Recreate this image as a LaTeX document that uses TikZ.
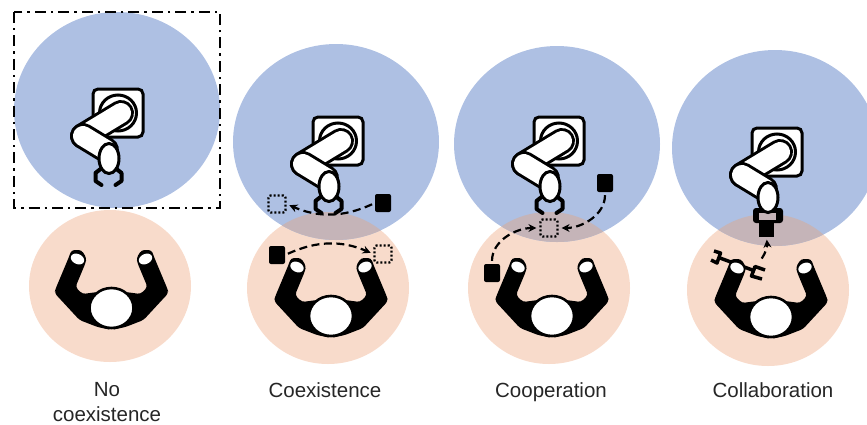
\documentclass[tikz,border=0pt]{standalone}
\usepackage{fontspec}
\setmainfont{Liberation Sans}
\usetikzlibrary{arrows.meta}
\definecolor{robotblue}{HTML}{AEC0E3}
\definecolor{humanpeach}{HTML}{F8DBCB}
\definecolor{sharedzone}{HTML}{C5B4B8}
\tikzset{
  flowline/.style={line width=2.2pt,dash pattern=on 8pt off 4.5pt,shorten <=3pt,shorten >=3pt,-{Stealth[length=8pt,width=8pt]}},
  partbox/.style={fill=black,rounded corners=2pt,minimum width=16pt,minimum height=18pt,inner sep=0pt},
  ghostbox/.style={draw,line width=2.2pt,dash pattern=on 2pt off 2pt,rounded corners=2pt,minimum width=17pt,minimum height=17pt,inner sep=0pt},
  caption/.style={font=\fontsize{20.5}{24.7}\selectfont,align=center,text=black!85,inner sep=0pt},
  robot/.pic={
    \draw[fill=white,line width=3pt,rounded corners=5pt] (-25,-24) rectangle (25,24);
    \draw[fill=white,line width=3pt] (0,0) ellipse (18.5 and 18);
    \draw[line cap=round,line width=26pt] (3,0) -- (-35,23);
    \draw[line cap=round,line width=20pt,white] (3,0) -- (-35,23);
    \draw[line cap=round,line width=26pt] (-35,23) -- (-12,37);
    \draw[line cap=round,line width=20pt,white] (-35,23) -- (-12,37);
    \draw[fill=white,line width=3pt] (-9,45.5) ellipse (10 and 15);
  },
  claws/.pic={
    \foreach \s in {1,-1}{
      \draw[line width=4pt,line join=round,line cap=round] (-9.5+\s*8,56) -- (-9.5+\s*13,60) -- (-9.5+\s*13,68) -- (-9.5+\s*7,72);
    }
  },
  human/.pic={
    \foreach \s in {1,-1}{
      \begin{scope}[xscale=\s]
        \fill[black,rounded corners=3pt] (0,22) -- (-14,19) -- (-32,12) -- (-57,-15) -- (-56,-19) -- (-43,-50) -- (-40,-58) -- (-30,-58) -- (-25,-50) -- (-26,-45) -- (-36,-21) -- (-29,-14) -- (-14,-16) -- (0,-16) -- cycle;
        \fill[white,rotate around={-25:(-34,-49)}] (-34,-49) ellipse (7 and 5);
      \end{scope}
    }
    \draw[fill=white,line width=2.6pt] (0,0) ellipse (22 and 20);
  },
}
\begin{document}
\begin{tikzpicture}[x=1pt,y=-1pt]
  \useasboundingbox (0,0) rectangle (867,424);
  % zones
  \foreach \bx/\by/\px/\py in {117/110/110/286,336/142/328/288,557/144/549/288,775/148/768/290}{
    \fill[humanpeach] (\px,\py) ellipse (81 and 76);
    \fill[robotblue] (\bx,\by) ellipse (103 and 98);
    \begin{scope}
      \clip (\px,\py) ellipse (81 and 76);
      \fill[sharedzone] (\bx,\by) ellipse (103 and 98);
    \end{scope}
  }
  \draw[line width=2.4pt,dash pattern=on 11pt off 5pt on 2.4pt off 5pt] (14,12) rectangle (220,208);
  % held part and tool
  \fill[rounded corners=3pt] (753,208) rectangle (783,223);
  \fill[sharedzone] (759,213) rectangle (776,220);
  \draw[line width=3.5pt] (720,258) -- (755,271);
  \draw[line width=3.5pt,line join=round] (714,251) -- (720.5,253) -- (717,263) -- (711,260);
  \draw[line width=3.5pt,line join=round] (765,270) -- (755,266.5) -- (751.5,276) -- (762,279);
  % robots and workers
  \foreach \rx/\ry/\hx/\hy in {118/113/111.5/308,338/141/331/316,559/141/552/316,777/152/771/317}{
    \pic at (\rx,\ry) {robot};
    \pic at (\hx,\hy) {human};
  }
  \pic at (118,113) {claws};
  \pic at (338,141) {claws};
  \pic at (559,141) {claws};
  % coexistence
  \node[partbox] (partA) at (383,203) {};
  \node[ghostbox] (ghostA) at (277,204) {};
  \node[partbox] (partB) at (277,255) {};
  \node[ghostbox] (ghostB) at (383,254) {};
  \draw[flowline] (partA.west) to[bend left=24] (ghostA.east);
  \draw[flowline] (partB.east) to[bend left=24] (ghostB.west);
  % cooperation
  \node[partbox] (partC) at (605,183) {};
  \node[partbox] (partD) at (492,273) {};
  \node[ghostbox] (ghostC) at (549,228) {};
  \draw[flowline] (partC.south) to[out=-90,in=0] (ghostC.east);
  \draw[flowline] (partD.north) to[out=90,in=180] (ghostC.west);
  % collaboration
  \node[fill=black,minimum width=15pt,minimum height=15pt,inner sep=0pt] (partE) at (766.5,229) {};
  \coordinate (toolE) at (760,261);
  \draw[flowline] (toolE) to[bend right=20] (partE.south);
  % labels
  \node[caption] (capA) at (107,402) {No\\coexistence};
  \node[caption,anchor=base] (capB) at (325,397) {Coexistence};
  \node[caption,anchor=base] (capC) at (551,397) {Cooperation};
  \node[caption,anchor=base] (capD) at (773,397) {Collaboration};
\end{tikzpicture}
\end{document}
